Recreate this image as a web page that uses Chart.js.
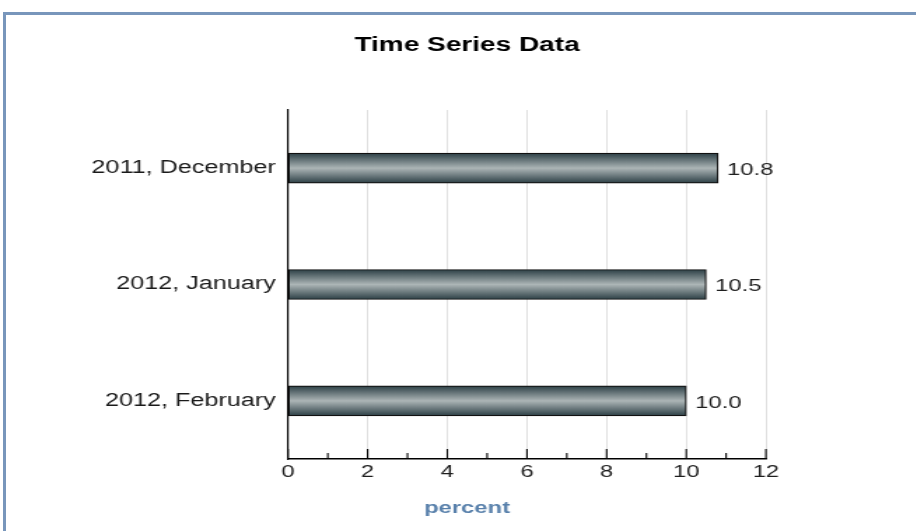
<!DOCTYPE html>
<html>
<head>
<meta charset="utf-8">
<script src="https://cdn.jsdelivr.net/npm/chart.js@4"></script>
<style>
  html, body { margin: 0; padding: 0; background: #fff; }
  #wrap { position: relative; width: 916px; height: 531px; overflow: hidden; }
  #frame { position: absolute; left: 3px; top: 12px; right: -10px; bottom: -10px;
           border-top: 3px solid #7896bb; border-left: 3px solid #7896bb; }
  canvas { position: absolute; left: 0; top: 0; transform-origin: 0 0; transform: scaleX(1.4); }
</style>
</head>
<body>
<div id="wrap">
  <div id="frame"></div>
  <canvas id="c" width="655" height="531"></canvas>
</div>
<script>
const categories = ['2011, December', '2012, January', '2012, February'];
const values = [10.8, 10.5, 10.0];
const xMin = 0, xMax = 12, xStep = 2;
const titleText = 'Time Series Data';
const axisTitle = 'percent';

const FONT = "'Liberation Sans', Arial, sans-serif";

const innerTicks = {
  id: 'innerTicks',
  afterDraw(chart) {
    const x = chart.scales.x, ctx = chart.ctx;
    const yb = chart.chartArea.bottom;
    ctx.save();
    ctx.strokeStyle = '#000';
    ctx.lineWidth = 1.1;
    for (let v = xMin; v <= xMax; v += 1) {
      const px = x.getPixelForValue(v);
      const len = (v % 2 === 0) ? 10 : 6;
      ctx.beginPath();
      ctx.moveTo(px, yb);
      ctx.lineTo(px, yb - len);
      ctx.stroke();
    }
    ctx.restore();
  }
};

const valueLabels = {
  id: 'valueLabels',
  afterDatasetsDraw(chart) {
    const ctx = chart.ctx;
    const meta = chart.getDatasetMeta(0);
    ctx.save();
    ctx.font = '17px ' + FONT;
    ctx.fillStyle = '#1e1e1e';
    ctx.textAlign = 'left';
    ctx.textBaseline = 'middle';
    meta.data.forEach((el, i) => {
      ctx.fillText(values[i].toFixed(1), el.x + 6.4, el.y + 2);
    });
    ctx.restore();
  }
};

function barFill(c) {
  const chart = c.chart;
  const ys = chart.scales && chart.scales.y;
  if (!ys || !chart.chartArea || c.dataIndex === undefined) return '#7a8a8e';
  const yc = ys.getPixelForValue(c.dataIndex);
  const g = chart.ctx.createLinearGradient(0, yc - 15, 0, yc + 15);
  g.addColorStop(0, '#2c3f45');
  g.addColorStop(0.5, '#acb5b6');
  g.addColorStop(1, '#2c3f45');
  return g;
}

new Chart(document.getElementById('c'), {
  type: 'bar',
  data: {
    labels: categories,
    datasets: [{
      data: values,
      xAxisID: 'x',
      yAxisID: 'y',
      backgroundColor: barFill,
      borderColor: '#111',
      borderWidth: 1.2,
      borderSkipped: false,
      barThickness: 30
    }]
  },
  options: {
    indexAxis: 'y',
    responsive: false,
    animation: false,
    layout: { padding: { left: 40, right: 27.8, top: 0, bottom: 12.8 } },
    plugins: {
      legend: { display: false },
      tooltip: { enabled: false },
      title: {
        display: true, text: titleText, color: '#000',
        font: { family: FONT, size: 20, weight: 'bold' },
        padding: { top: 33, bottom: 53 }
      },
      subtitle: {
        display: true, text: axisTitle, position: 'bottom', color: '#5880ab',
        font: { family: FONT, size: 17, weight: 'bold' },
        padding: { top: 12.4, bottom: 0 }
      }
    },
    scales: {
      x: {
        type: 'linear', min: xMin, max: xMax,
        ticks: { stepSize: xStep, color: '#1e1e1e', padding: 3, font: { family: FONT, size: 17 } },
        grid: { color: '#d8d8d8', lineWidth: 0.8, drawTicks: false },
        border: { display: true, color: '#000', width: 1.5 },
        afterFit(s) { s.paddingLeft = 0; s.paddingRight = 0; }
      },
      y: {
        type: 'category', position: 'left',
        ticks: { color: '#1a1a1a', padding: 8.6, font: { family: FONT, size: 18 } },
        grid: { display: false, drawTicks: false },
        border: { display: true, color: '#000', width: 1.2 },
        afterFit(s) { s.width = 165.7; s.paddingTop = 0; s.paddingBottom = 0; }
      },
      yR: {
        type: 'category', axis: 'y', position: 'right', display: true,
        ticks: { display: false },
        grid: { display: false, drawTicks: false },
        border: { display: false },
        afterFit(s) { s.width = 80.1; s.paddingTop = 0; s.paddingBottom = 0; }
      }
    }
  },
  plugins: [innerTicks, valueLabels]
});
</script>
</body>
</html>
